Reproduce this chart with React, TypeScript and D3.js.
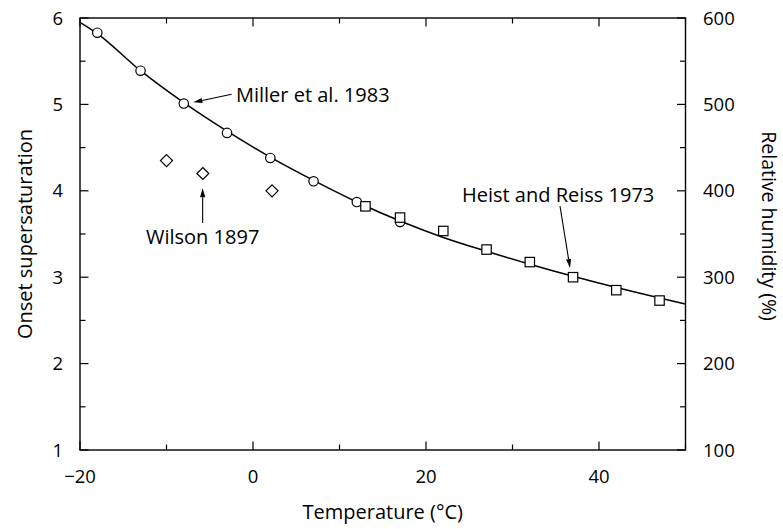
import React from "react";
import * as d3 from "d3";

const millerT = [-18, -13, -8, -3, 2, 7, 12, 17];
const millerS = [5.83, 5.39, 5.01, 4.67, 4.38, 4.11, 3.87, 3.64];

const heistT = [13, 17, 22, 27, 32, 37, 42, 47];
const heistS = [3.82, 3.69, 3.535, 3.32, 3.175, 3.0, 2.85, 2.73];

const wilsonT = [-10, -5.8, 2.2];
const wilsonS = [4.35, 4.2, 4.0];

const fitT = [-20, -18, -13, -8, -3, 2, 7, 12, 17, 22, 27, 32, 37, 42, 47, 50];
const fitS = [5.95, 5.82, 5.39, 5.02, 4.69, 4.39, 4.12, 3.87, 3.65, 3.46, 3.3, 3.15, 3.01, 2.88, 2.76, 2.69];

const xMajor = [-20, 0, 20, 40];
const xMinor = [-10, 10, 30, 50];
const yMajor = [1, 2, 3, 4, 5, 6];
const yMinor = [1.5, 2.5, 3.5, 4.5, 5.5];
const rhMajor = [100, 200, 300, 400, 500, 600];
const rhMinor = [150, 250, 350, 450, 550];

const annotations = [
  { text: "Miller et al. 1983", tx: -1.97, ty: 5.024, anchor: "start", x1: -2.47, y1: 5.117, x2: -6.9, y2: 5.024 },
  { text: "Wilson 1897", tx: -5.82, ty: 3.384, anchor: "middle", x1: -5.82, y1: 3.627, x2: -5.82, y2: 4.029 },
  { text: "Heist and Reiss 1973", tx: 24.16, ty: 3.874, anchor: "start", x1: 35.49, y1: 3.824, x2: 36.65, y2: 3.106 },
];

const W = 783;
const H = 529;
const L = 80, R = 685.5, T = 18, B = 450;

export default function App() {
  const x = d3.scaleLinear().domain([-20, 50]).range([L, R]);
  const y = d3.scaleLinear().domain([1, 6]).range([B, T]);
  const yr = d3.scaleLinear().domain([100, 600]).range([B, T]);
  const font = "'Open Sans', sans-serif";

  const line = d3
    .line<number>()
    .x((_, i) => x(fitT[i]))
    .y((d) => y(d))
    .curve(d3.curveMonotoneX);

  const maj = 8.5, min = 5.5;

  const arrow = (a: typeof annotations[0]) => {
    const X1 = x(a.x1), Y1 = y(a.y1), X2 = x(a.x2), Y2 = y(a.y2);
    const dx = X2 - X1, dy = Y2 - Y1;
    const len = Math.hypot(dx, dy);
    const ux = dx / len, uy = dy / len;
    const hl = 9, hw = 2.6;
    const bx = X2 - ux * hl, by = Y2 - uy * hl;
    const pts = `${X2},${Y2} ${bx - uy * hw},${by + ux * hw} ${bx + uy * hw},${by - ux * hw}`;
    return (
      <g key={a.text}>
        <line x1={X1} y1={Y1} x2={bx} y2={by} stroke="#000" strokeWidth={1.1} />
        <polygon points={pts} fill="#000" />
      </g>
    );
  };

  return (
    <svg width={W} height={H} style={{ display: "block", position: "absolute", left: 0, top: 0 }} fontFamily={font}>
      <rect x={0} y={0} width={W} height={H} fill="#fff" />
      {/* ticks */}
      <g stroke="#000" strokeWidth={1.2}>
        {xMajor.map((t) => (
          <g key={"xm" + t}>
            <line x1={x(t)} x2={x(t)} y1={B} y2={B - maj} />
            <line x1={x(t)} x2={x(t)} y1={T} y2={T + maj} />
          </g>
        ))}
        {xMinor.map((t) => (
          <g key={"xn" + t}>
            <line x1={x(t)} x2={x(t)} y1={B} y2={B - min} />
            <line x1={x(t)} x2={x(t)} y1={T} y2={T + min} />
          </g>
        ))}
        {yMajor.map((t) => (
          <line key={"ym" + t} x1={L} x2={L + maj} y1={y(t)} y2={y(t)} />
        ))}
        {yMinor.map((t) => (
          <line key={"yn" + t} x1={L} x2={L + min} y1={y(t)} y2={y(t)} />
        ))}
        {rhMajor.map((t) => (
          <line key={"rm" + t} x1={R} x2={R - maj} y1={yr(t)} y2={yr(t)} />
        ))}
        {rhMinor.map((t) => (
          <line key={"rn" + t} x1={R} x2={R - min} y1={yr(t)} y2={yr(t)} />
        ))}
      </g>
      <rect x={L} y={T} width={R - L} height={B - T} fill="none" stroke="#000" strokeWidth={1.4} />
      {/* tick labels */}
      <g fontSize={18.5} fill="#000">
        {xMajor.map((t) => (
          <text key={"xl" + t} x={x(t)} y={483} textAnchor="middle">
            {t < 0 ? "\u2212" + Math.abs(t) : String(t)}
          </text>
        ))}
        {yMajor.map((t) => (
          <text key={"yl" + t} x={63} y={y(t) + 6.5} textAnchor="end">
            {t}
          </text>
        ))}
        {rhMajor.map((t) => (
          <text key={"rl" + t} x={703} y={yr(t) + 6.5} textAnchor="start">
            {t}
          </text>
        ))}
      </g>
      {/* axis titles */}
      <g fontSize={20} fill="#000">
        <text x={(L + R) / 2} y={519} textAnchor="middle">Temperature (°C)</text>
        <text transform={`translate(31.5,${(T + B) / 2}) rotate(-90)`} textAnchor="middle">Onset supersaturation</text>
        <text transform={`translate(762,226) rotate(90)`} textAnchor="middle" fontSize={19.5}>Relative humidity (%)</text>
      </g>
      {/* fit curve */}
      <path d={line(fitS) || ""} fill="none" stroke="#000" strokeWidth={1.5} />
      {/* markers */}
      <g fill="#fff" stroke="#000" strokeWidth={1.2}>
        {millerT.map((t, i) => (
          <circle key={"c" + i} cx={x(t)} cy={y(millerS[i])} r={4.7} />
        ))}
        {heistT.map((t, i) => (
          <rect key={"s" + i} x={x(t) - 4.7} y={y(heistS[i]) - 4.7} width={9.4} height={9.4} />
        ))}
        {wilsonT.map((t, i) => {
          const cx = x(t), cy = y(wilsonS[i]), h = 6;
          return <polygon key={"d" + i} points={`${cx},${cy - h} ${cx + h},${cy} ${cx},${cy + h} ${cx - h},${cy}`} />;
        })}
      </g>
      {/* annotations */}
      {annotations.map(arrow)}
      <g fontSize={20} fill="#000">
        {annotations.map((a) => (
          <text key={"t" + a.text} x={x(a.tx)} y={y(a.ty)} textAnchor={a.anchor as any}>
            {a.text}
          </text>
        ))}
      </g>
    </svg>
  );
}
